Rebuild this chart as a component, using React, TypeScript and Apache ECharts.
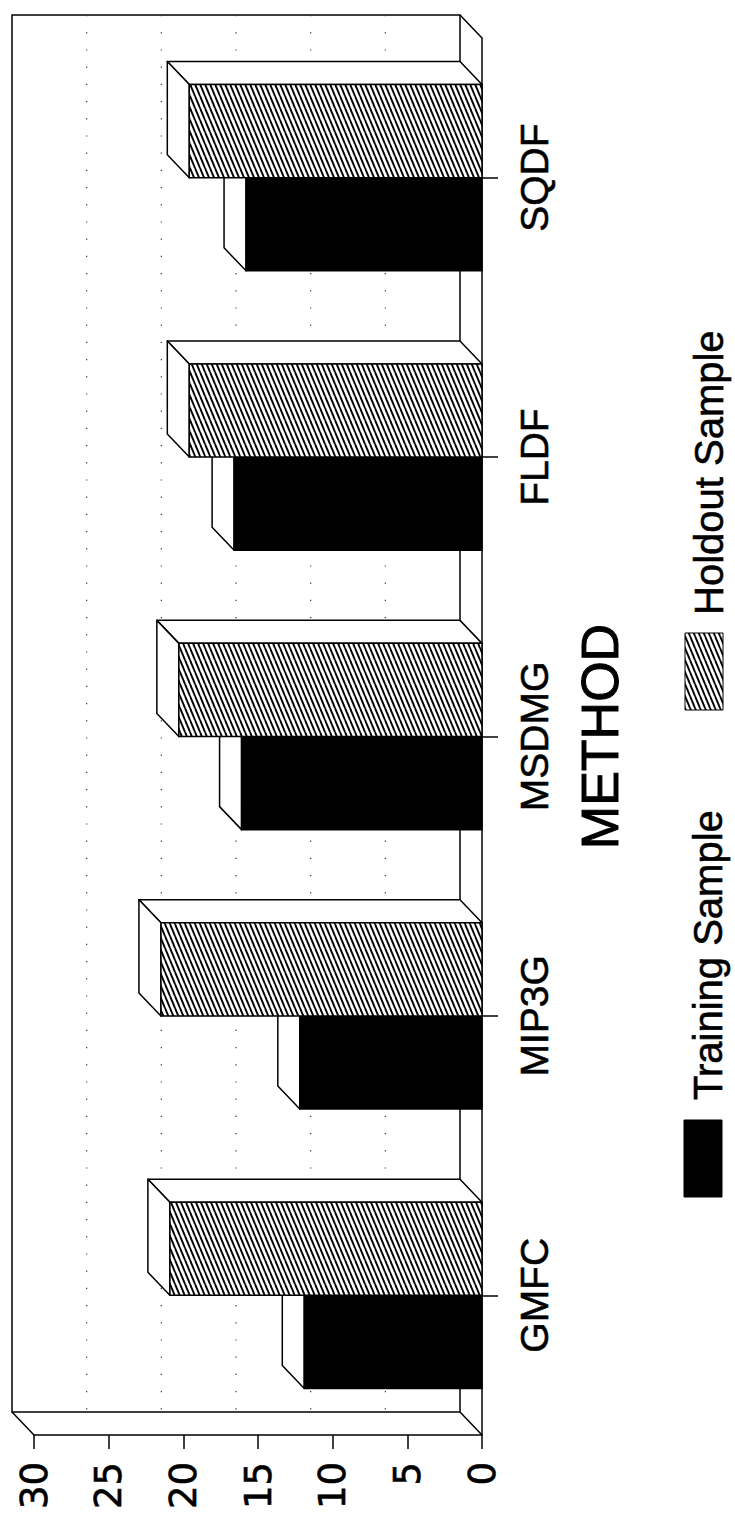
import React, { useEffect, useRef } from "react";
import * as echarts from "echarts";

// Misclassification by method, two samples
const categories = ["GMFC", "MIP3G", "MSDMG", "FLDF", "SQDF"];
const trainingSample = [11.9, 12.2, 16.1, 16.6, 15.8];
const holdoutSample = [20.9, 21.5, 20.3, 19.6, 19.6];
const valueMin = 0;
const valueMax = 30;
const valueStep = 5;
const gridValues = [5, 10, 15, 20, 25];
const seriesNames = ["Training Sample", "Holdout Sample"];
const axisTitle = "METHOD";

// oblique depth of the 3D boxes, in pixels (towards the upper left)
const DEPTH_X = 22;
const DEPTH_Y = 23;
const INK = "#000";
const LW = 1.5;
const SANS = "'Liberation Sans', Arial, Helvetica, sans-serif";

function makeHatchTile(): HTMLCanvasElement {
  const w = 5;
  const h = 12;
  const c = document.createElement("canvas");
  c.width = w;
  c.height = h;
  const ctx = c.getContext("2d")!;
  ctx.fillStyle = "#fff";
  ctx.fillRect(0, 0, w, h);
  ctx.strokeStyle = "#000";
  ctx.lineWidth = 1.9;
  for (let k = -1; k <= 1; k++) {
    ctx.beginPath();
    ctx.moveTo(k * w, 0);
    ctx.lineTo(k * w + w, h);
    ctx.stroke();
  }
  return c;
}

function boxRenderer(side: "below" | "above", frontFill: any) {
  return (params: any, api: any) => {
    const cat = api.value(0);
    const val = api.value(1);
    const base = api.coord([0, cat]);
    const end = api.coord([val, cat]);
    const band = api.size([0, 1])[1];
    const bw = band / 3;
    const bx = base[0];
    const ex = end[0];
    const yc = base[1];
    const y0 = side === "below" ? yc : yc - bw;
    const y1 = y0 + bw;
    const faceStyle = { fill: "#fff", stroke: INK, lineWidth: LW, lineJoin: "round" };
    return {
      type: "group",
      children: [
        {
          type: "polygon",
          shape: {
            points: [
              [ex, y0],
              [bx, y0],
              [bx - DEPTH_X, y0 - DEPTH_Y],
              [ex - DEPTH_X, y0 - DEPTH_Y],
            ],
          },
          style: faceStyle,
        },
        {
          type: "polygon",
          shape: {
            points: [
              [ex, y0],
              [ex, y1],
              [ex - DEPTH_X, y1 - DEPTH_Y],
              [ex - DEPTH_X, y0 - DEPTH_Y],
            ],
          },
          style: faceStyle,
        },
        {
          type: "rect",
          shape: { x: ex, y: y0, width: bx - ex, height: bw },
          style: { fill: frontFill, stroke: INK, lineWidth: LW },
        },
      ],
    };
  };
}

function frameRenderer(params: any, api: any) {
  const cs = params.coordSys;
  const left = cs.x;
  const top = cs.y;
  const right = cs.x + cs.width;
  const bottom = cs.y + cs.height;
  const line = { stroke: INK, lineWidth: LW };
  const children: any[] = [
    {
      type: "polygon",
      shape: {
        points: [
          [left - DEPTH_X, top - DEPTH_Y],
          [right - DEPTH_X, top - DEPTH_Y],
          [right - DEPTH_X, bottom - DEPTH_Y],
          [left - DEPTH_X, bottom - DEPTH_Y],
        ],
      },
      style: { fill: "none", stroke: INK, lineWidth: LW },
    },
    { type: "line", shape: { x1: left, y1: bottom, x2: left - DEPTH_X, y2: bottom - DEPTH_Y }, style: line },
    { type: "line", shape: { x1: right, y1: bottom, x2: right - DEPTH_X, y2: bottom - DEPTH_Y }, style: line },
    { type: "line", shape: { x1: right, y1: top, x2: right - DEPTH_X, y2: top - DEPTH_Y }, style: line },
  ];
  gridValues.forEach((v) => {
    const gx = api.coord([v, 0])[0] - DEPTH_X;
    children.push({
      type: "line",
      shape: { x1: gx, y1: top - DEPTH_Y, x2: gx, y2: bottom - DEPTH_Y },
      style: { stroke: "#333", lineWidth: 1.2, lineDash: [1.2, 16] },
    });
  });
  return { type: "group", children };
}

export default function App() {
  const ref = useRef<HTMLDivElement>(null);

  useEffect(() => {
    if (!ref.current) return;
    const chart = echarts.init(ref.current, null, { renderer: "svg" });
    const tile = makeHatchTile();
    const hatch = {
      image: tile,
      repeat: "repeat",
      imageWidth: tile.width,
      imageHeight: tile.height,
    };

    const trainingData = trainingSample.map((v, i) => [i, v]);
    const holdoutData = holdoutSample.map((v, i) => [i, v]);

    const legendText = (text: string, x: number, y: number) => ({
      type: "text",
      x,
      y,
      rotation: Math.PI / 2,
      style: {
        text,
        fill: INK,
        stroke: INK,
        lineWidth: 0.6,
        font: `40px ${SANS}`,
        align: "left",
        verticalAlign: "middle",
      },
    });

    chart.setOption({
      animation: false,
      backgroundColor: "#fff",
      grid: { left: 34, right: 253, top: 38, bottom: 87, containLabel: false },
      xAxis: {
        type: "value",
        min: valueMin,
        max: valueMax,
        interval: valueStep,
        inverse: true,
        splitLine: { show: false },
        axisLine: { show: true, lineStyle: { color: INK, width: LW } },
        axisTick: { show: true, length: 14, lineStyle: { color: INK, width: LW } },
        axisLabel: {
          rotate: 90,
          margin: 27,
          color: INK,
          fontSize: 37,
          fontFamily: "'DejaVu Sans', sans-serif",
          textBorderColor: INK,
          textBorderWidth: 0.6,
        },
      },
      yAxis: {
        type: "category",
        data: categories,
        position: "right",
        name: axisTitle,
        nameLocation: "middle",
        nameRotate: 90,
        nameGap: 92,
        nameTextStyle: {
          color: INK,
          fontSize: 52,
          fontFamily: SANS,
          textBorderColor: INK,
          textBorderWidth: 1,
        },
        axisLine: { show: true, lineStyle: { color: INK, width: LW } },
        axisTick: { show: true, alignWithLabel: true, length: 16, lineStyle: { color: INK, width: LW } },
        axisLabel: {
          rotate: 90,
          margin: 33,
          color: INK,
          fontSize: 39,
          fontFamily: SANS,
          textBorderColor: INK,
          textBorderWidth: 0.6,
        },
        splitLine: { show: false },
      },
      series: [
        {
          type: "custom",
          name: "frame",
          z: 1,
          silent: true,
          encode: { x: 1, y: 0 },
          data: [[0, 0]],
          renderItem: frameRenderer,
        },
        {
          type: "custom",
          name: seriesNames[0],
          z: 2,
          encode: { x: 1, y: 0 },
          data: trainingData,
          renderItem: boxRenderer("below", INK),
        },
        {
          type: "custom",
          name: seriesNames[1],
          z: 3,
          encode: { x: 1, y: 0 },
          data: holdoutData,
          renderItem: boxRenderer("above", hatch),
        },
      ],
      graphic: [
        {
          type: "rect",
          shape: { x: 684, y: 1120, width: 38, height: 77 },
          style: { fill: INK, stroke: INK, lineWidth: 1 },
        },
        legendText(seriesNames[0], 708, 1100),
        {
          type: "rect",
          shape: { x: 685, y: 633, width: 38, height: 77 },
          style: { fill: hatch, stroke: INK, lineWidth: 1 },
        },
        legendText(seriesNames[1], 709, 615),
      ],
    });

    return () => chart.dispose();
  }, []);

  return (
    <div
      ref={ref}
      style={{ position: "fixed", left: 0, top: 0, width: 735, height: 1522, background: "#fff" }}
    />
  );
}
